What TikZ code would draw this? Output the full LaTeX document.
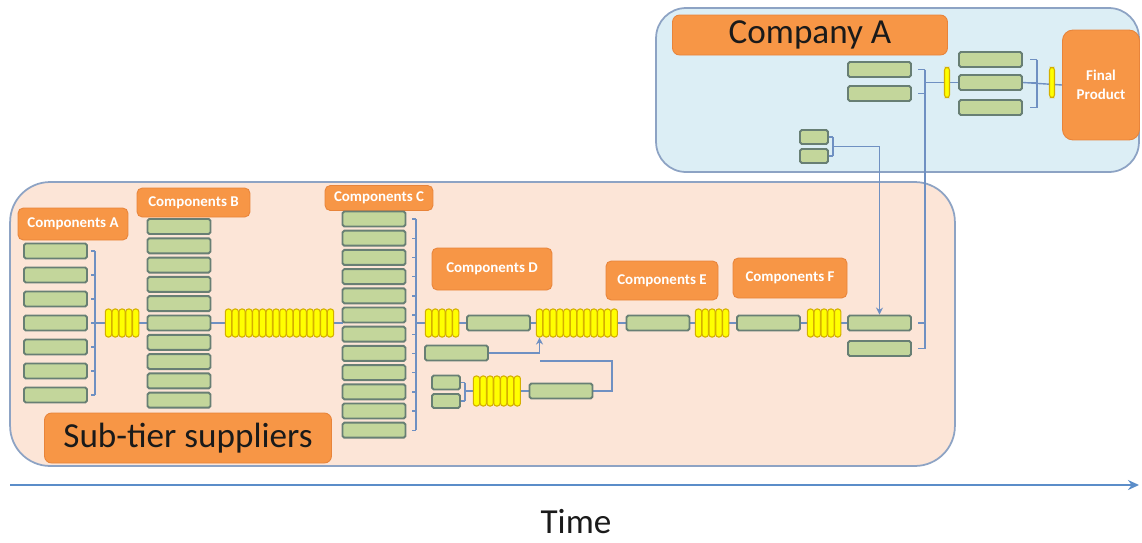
\documentclass[tikz,border=0pt]{standalone}
\usepackage{fontspec}
\setmainfont{Carlito}
\usepackage{tikz}
\usepackage{xcolor}
\usetikzlibrary{arrows.meta,positioning,calc}
\definecolor{peach}{HTML}{FCE5D7}
\definecolor{skyfill}{HTML}{DCEEF5}
\definecolor{panelrule}{HTML}{8DA3C4}
\definecolor{orangefill}{HTML}{F79646}
\definecolor{orangeedge}{HTML}{E8843A}
\definecolor{partfill}{HTML}{C3D69B}
\definecolor{partedge}{HTML}{687F74}
\definecolor{gatefill}{HTML}{FFFF00}
\definecolor{gateedge}{HTML}{D4AF00}
\definecolor{linkblue}{HTML}{6F90C2}
\definecolor{timeblue}{HTML}{5B8DC9}
\definecolor{ink}{HTML}{1A1A1A}
\pgfdeclarelayer{panels}
\pgfdeclarelayer{links}
\pgfsetlayers{panels,links,main}
\tikzset{
  tierpanel/.style={draw=panelrule,line width=1pt,rounded corners=0.8cm,inner sep=0pt},
  partbox/.style={draw=partedge,fill=partfill,line width=1.1pt,rounded corners=1pt,
                  minimum width=1.26cm,minimum height=0.3cm,inner sep=0pt},
  minipart/.style={partbox,minimum width=0.56cm,minimum height=0.28cm},
  gatebar/.style={draw=gateedge,fill=gatefill,line width=0.6pt,rounded corners=1.5pt,
                  minimum width=0.125cm,minimum height=0.56cm,inner sep=0pt},
  compbox/.style={draw=orangeedge,fill=orangefill,line width=0.5pt,rounded corners=3pt,
                  text=white,font=\fontsize{8.5}{11}\selectfont\bfseries,inner sep=0pt},
  titlebox/.style={draw=orangeedge,fill=orangefill,line width=0.5pt,rounded corners=4pt,
                   text=ink,font=\fontsize{20}{24}\selectfont,inner sep=0pt},
  linkline/.style={draw=linkblue,line width=0.8pt},
  linkarr/.style={linkline,-{Stealth[length=1.4mm,width=1.4mm]}},
  timearr/.style={draw=timeblue,line width=1.6pt,-{Stealth[length=2.2mm,width=2mm]}}
}
\begin{document}
\begin{tikzpicture}[x=0.02cm,y=-0.02cm]
  \useasboundingbox (0,0) rectangle (1142,542);
  \begin{pgfonlayer}{panels}
    \node[tierpanel,fill=peach,minimum width=18.9cm,minimum height=5.68cm] (subtier) at (482.5,324) {};
    \node[tierpanel,fill=skyfill,rounded corners=0.6cm,minimum width=9.66cm,minimum height=3.28cm] (firm) at (897.5,90) {};
  \end{pgfonlayer}
  % titles
  \node[titlebox,minimum width=5.74cm,minimum height=1cm] (subtitle) at (188,438) {Sub-tier suppliers};
  \node[titlebox,minimum width=5.5cm,minimum height=0.8cm] (firmtitle) at (810,35) {Company A};
  \node[compbox,minimum width=1.54cm,minimum height=2.2cm,rounded corners=6pt,align=center] (final) at (1101,85) {Final\\Product};
  \node[compbox,minimum width=2.2cm,minimum height=0.64cm] (labA) at (73,224) {Components A};
  \node[compbox,minimum width=2.26cm,minimum height=0.58cm] (labB) at (193.5,202.5) {Components B};
  \node[compbox,minimum width=2.16cm,minimum height=0.5cm] (labC) at (379,198) {Components C};
  \node[compbox,minimum width=2.4cm,minimum height=0.84cm] (labD) at (492,269) {Components D};
  \node[compbox,minimum width=2.24cm,minimum height=0.78cm] (labE) at (662,280.5) {Components E};
  \node[compbox,minimum width=2.28cm,minimum height=0.8cm] (labF) at (790,278) {Components F};
  % parts
  \foreach \i in {1,...,7} \node[partbox] (A\i) at (55.5,{251+24*(\i-1)}) {};
  \foreach \i in {1,...,10} \node[partbox] (B\i) at (179,{226.5+19.3*(\i-1)}) {};
  \foreach \i in {1,...,12} \node[partbox] (C\i) at (374,{219+19.2*(\i-1)}) {};
  \node[partbox] (D1) at (498.5,323) {};
  \node[partbox] (D2) at (456.5,353) {};
  \node[minipart] (P1) at (446,382.5) {};
  \node[minipart] (P2) at (446,401) {};
  \node[partbox] (D3) at (561,391) {};
  \node[partbox] (E1) at (658,323) {};
  \node[partbox] (F1) at (768.5,323) {};
  \node[partbox] (G1) at (879.5,323) {};
  \node[partbox] (G2) at (879.5,348.5) {};
  \node[partbox] (H1) at (879.5,69.5) {};
  \node[partbox] (H2) at (879.5,93.5) {};
  \node[partbox] (K1) at (990.5,59.5) {};
  \node[partbox] (K2) at (990.5,82.5) {};
  \node[partbox] (K3) at (990.5,107.5) {};
  \node[minipart] (S1) at (814,137) {};
  \node[minipart] (S2) at (814,156) {};
  % gates
  \foreach \i in {1,...,5} \node[gatebar] (ab\i) at ({108.5+6.8*(\i-1)},323) {};
  \foreach \i in {1,...,16} \node[gatebar] (bc\i) at ({228.5+6.8*(\i-1)},323) {};
  \foreach \i in {1,...,5} \node[gatebar] (cd\i) at ({428.5+6.8*(\i-1)},323) {};
  \foreach \i in {1,...,12} \node[gatebar] (de\i) at ({539.5+6.8*(\i-1)},323) {};
  \foreach \i in {1,...,5} \node[gatebar] (ef\i) at ({698.5+6.8*(\i-1)},323) {};
  \foreach \i in {1,...,5} \node[gatebar] (fg\i) at ({810.5+6.8*(\i-1)},323) {};
  \foreach \i in {1,...,7} \node[gatebar,minimum height=0.6cm] (pq\i) at ({476.5+6.8*(\i-1)},391) {};
  \node[gatebar,minimum width=0.1cm,minimum height=0.6cm] (hk) at (947,82.5) {};
  \node[gatebar,minimum width=0.1cm,minimum height=0.6cm] (kf) at (1052,82.5) {};
  % links
  \begin{pgfonlayer}{links}
    \coordinate (brA) at (95,323);
    \draw[linkline] (brA |- A1) -- (brA |- A7);
    \foreach \i in {1,...,7} \draw[linkline] (brA |- A\i) -- ++(-4,0);
    \draw[linkline] (brA) -- (B6.west);
    \coordinate (inC) at (343,323);
    \draw[linkline] (B6.east) -- (inC);
    \coordinate (brC) at (416,323);
    \draw[linkline] (brC |- C1) -- (brC |- C12);
    \foreach \i in {1,...,12} \draw[linkline] (brC |- C\i) -- ++(-4,0);
    \draw[linkline] (brC) -- (D1.west);
    \draw[linkline] (D1.east) -- (E1.west);
    \draw[linkline] (E1.east) -- (F1.west);
    \draw[linkline] (F1.east) -- (G1.west);
    \draw[linkarr] (D2.east) -| (de1.south);
    \coordinate (dturn) at (612,361);
    \draw[linkline] (D3.east) -| (dturn) -- (dturn -| de1);
    \coordinate (brP) at (465,391);
    \draw[linkline] (brP |- P1) -- (brP |- P2);
    \foreach \n in {P1,P2} \draw[linkline] (brP |- \n) -- (\n.east);
    \draw[linkline] (brP) -- (D3.west);
    \coordinate (brG) at (925,323);
    \draw[linkline] (brG |- H1) -- (brG |- G2);
    \foreach \n in {H1,H2,G1,G2} \draw[linkline] (brG |- \n) -- ++(-7,0);
    \draw[linkline] (brG |- K2) -- (K2.west);
    \coordinate (brK) at (1037,82.5);
    \draw[linkline] (brK |- K1) -- (brK |- K3);
    \foreach \n in {K1,K2,K3} \draw[linkline] (brK |- \n) -- ++(-7,0);
    \draw[linkline] (K2.east) -- (final.west);
    \coordinate (brS) at (833,146.5);
    \draw[linkline] (brS |- S1) -- (brS |- S2);
    \foreach \n in {S1,S2} \draw[linkline] (brS |- \n) -- (\n.east);
    \draw[linkarr] (brS) -| (G1.north);
  \end{pgfonlayer}
  % time axis
  \coordinate (t0) at (10,485);
  \coordinate (t1) at (1139,485);
  \draw[timearr] (t0) -- (t1);
  \node[font=\fontsize{20}{24}\selectfont,text=ink,inner sep=0pt] (timelbl) at (576,522) {Time};
\end{tikzpicture}
\end{document}
